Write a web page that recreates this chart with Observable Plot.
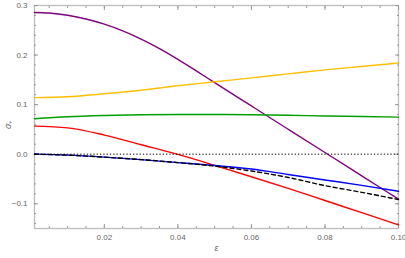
<!DOCTYPE html>
<html>
<head>
<meta charset="utf-8">
<script src="https://cdn.jsdelivr.net/npm/d3@7"></script>
<script src="https://cdn.jsdelivr.net/npm/@observablehq/plot@0.6"></script>
<style>
  html, body { margin: 0; padding: 0; background: #fff; }
</style>
</head>
<body>
<div id="chart"></div>
<script>
const eps    = [0.001, 0.01, 0.02, 0.03, 0.04, 0.05, 0.06, 0.07, 0.08, 0.09, 0.1];
const ePurple = [0.001, 0.005, 0.01, 0.015, 0.02, 0.025, 0.03, 0.035, 0.04, 0.045, 0.05, 0.06, 0.07, 0.08, 0.09, 0.1];
const purple = [0.286, 0.2848, 0.2803, 0.2728, 0.2623, 0.2488, 0.2323, 0.2131, 0.1913, 0.168, 0.1443, 0.0973, 0.0503, 0.0033, -0.0437, -0.0907];
const yellow = [0.114, 0.116, 0.122, 0.129, 0.138, 0.146, 0.154, 0.162, 0.170, 0.177, 0.184];
const green  = [0.0715, 0.0755, 0.078, 0.0795, 0.080, 0.080, 0.0795, 0.0785, 0.077, 0.076, 0.0747];
const red    = [0.0566, 0.053, 0.0385, 0.019, -0.0005, -0.0225, -0.0455, -0.069, -0.0935, -0.118, -0.1426];
const blue   = [0, -0.002, -0.006, -0.011, -0.017, -0.023, -0.030, -0.041, -0.052, -0.063, -0.0747];
const black  = [0, -0.002, -0.006, -0.011, -0.017, -0.024, -0.034, -0.047, -0.0635, -0.077, -0.0915];

const xMajor = [0.02, 0.04, 0.06, 0.08, 0.10];
const xMinor = d3.range(1, 20).map(i => i * 0.005);
const yMajor = [-0.1, 0.0, 0.1, 0.2, 0.3];
const yMinor = d3.range(-7, 15).map(i => i * 0.02);

const series = [
  {xs: ePurple, vals: purple, color: "#800080", dash: null},
  {xs: eps, vals: yellow, color: "#FFBF00", dash: null},
  {xs: eps, vals: green,  color: "#00A000", dash: null},
  {xs: eps, vals: red,    color: "#FF0000", dash: null},
  {xs: eps, vals: blue,   color: "#0000FF", dash: null},
  {xs: eps, vals: black,  color: "#000000", dash: "4,3"}
];

const lineMarks = series.map(s =>
  Plot.line(s.xs.map((e, i) => ({e, v: s.vals[i]})), {
    x: "e", y: "v", stroke: s.color, strokeWidth: 1.4, curve: "monotone-x",
    strokeDasharray: s.dash
  })
);

const tickColor = "#999";
const labelColor = "#666";
const font = "Liberation Sans, Arial, sans-serif";
const blank = () => "";

const chart = Plot.plot({
  width: 405,
  height: 258,
  marginLeft: 34,
  marginRight: 7,
  marginTop: 5,
  marginBottom: 30,
  style: {fontFamily: font, fontSize: "8px", background: "#fff"},
  x: {domain: [0.001, 0.1], axis: null},
  y: {domain: [-0.15, 0.3], axis: null},
  marks: [
    Plot.frame({stroke: "#bdbdbd", strokeWidth: 1.3}),
    // minor ticks
    Plot.axisX(xMinor, {anchor: "bottom", tickSize: -2, tickFormat: blank, stroke: tickColor, label: null}),
    Plot.axisX(xMinor, {anchor: "top", tickSize: -2, tickFormat: blank, stroke: tickColor, label: null}),
    Plot.axisY(yMinor, {anchor: "left", tickSize: -2, tickFormat: blank, stroke: tickColor, label: null}),
    Plot.axisY(yMinor, {anchor: "right", tickSize: -2, tickFormat: blank, stroke: tickColor, label: null}),
    // major ticks
    Plot.axisX(xMajor, {anchor: "bottom", tickSize: -4, tickPadding: 9.5, tickFormat: d3.format(".2f"), stroke: tickColor, fill: labelColor, label: null}),
    Plot.axisX(xMajor, {anchor: "top", tickSize: -4, tickFormat: blank, stroke: tickColor, label: null}),
    Plot.axisY(yMajor, {anchor: "left", tickSize: -4, tickPadding: 11, tickFormat: d3.format(".1f"), stroke: tickColor, fill: labelColor, label: null}),
    Plot.axisY(yMajor, {anchor: "right", tickSize: -4, tickFormat: blank, stroke: tickColor, label: null}),
    ...lineMarks,
    Plot.ruleY([0], {stroke: "#000", strokeWidth: 1, strokeDasharray: "1.3,2"}),
    Plot.text(["ε"], {frameAnchor: "bottom", dy: 22, fill: labelColor, fontSize: 9, fontStyle: "italic"}),
    Plot.text(["σ₊"], {frameAnchor: "left", dx: -26, dy: 12, rotate: -90, fill: labelColor, fontSize: 9, fontStyle: "italic"})
  ]
});

document.getElementById("chart").appendChild(chart);
</script>
</body>
</html>
